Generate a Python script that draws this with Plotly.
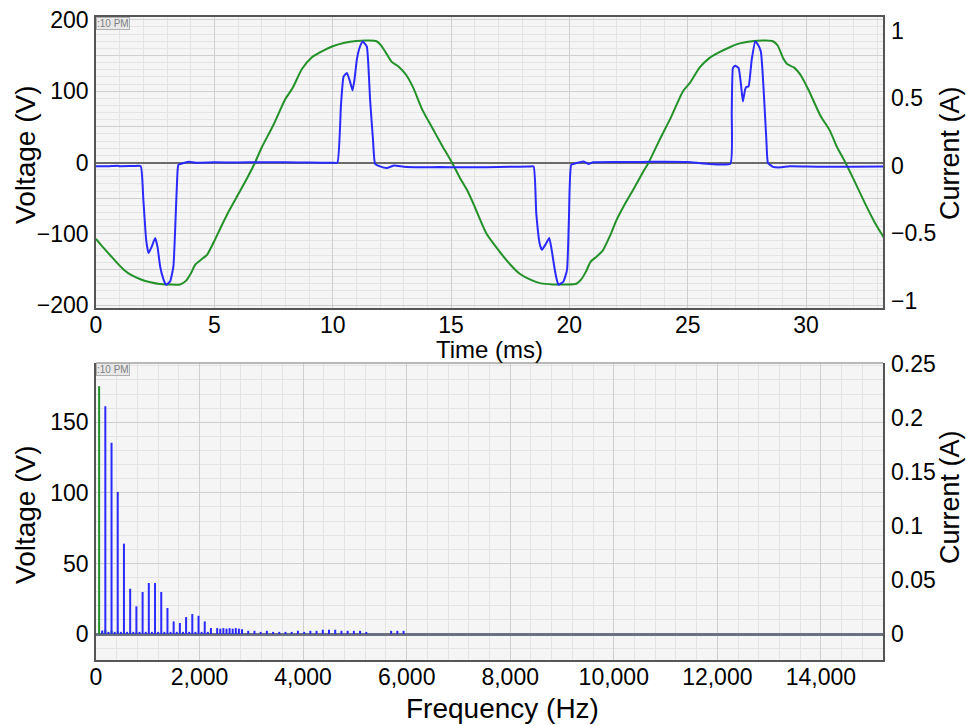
import plotly.graph_objects as go

# ---------------- data: time domain ----------------
t_volt = [0.0, 0.3, 0.6, 0.9, 1.2, 1.5, 1.9, 2.3, 2.7, 3.1, 3.55, 3.8, 4.0, 4.2, 4.45, 4.7,
          5.0, 5.3, 5.6, 6.0, 6.4, 6.72, 7.0, 7.5, 8.0, 8.3, 8.7, 9.1, 9.5, 10.0, 10.5, 11.0,
          11.5, 11.85, 12.05, 12.3, 12.5, 12.8, 13.1, 13.4, 13.8, 14.2, 14.6, 15.04, 15.4, 15.7,
          16.0, 16.5, 17.1, 17.5, 17.9, 18.4, 18.8, 19.3, 19.8, 20.3, 20.5, 20.7, 20.9, 21.15,
          21.4, 21.7, 22.0, 22.3, 22.7, 23.1, 23.35, 23.8, 24.3, 24.8, 25.1, 25.5, 25.9, 26.3,
          26.8, 27.2, 27.8, 28.3, 28.6, 28.8, 29.05, 29.2, 29.5, 29.8, 30.1, 30.6, 31.0, 31.3,
          31.66, 32.0, 32.5, 32.9, 33.3]
voltage = [-107, -119, -130, -141, -151, -158, -164, -168, -170.5, -171, -171, -166, -156, -143, -136, -129,
           -110, -89, -69, -45, -21, 0, 21, 53, 89, 104, 131, 147, 155, 163, 168, 170.5,
           171, 170, 164, 151, 141, 134, 123, 105, 73, 49, 25, 0, -23, -40,
           -62, -100, -127, -143, -156, -165, -169.5, -171, -171, -170, -164, -153, -139, -132,
           -124, -104, -80, -61, -38, -14, 0, 31, 64, 100, 112, 133, 146, 154,
           162, 167, 170.5, 171, 170, 164, 145, 138, 133, 121, 102, 66, 45, 22,
           0, -23, -58, -84, -106]

t_curr = [0.0, 0.5, 0.9, 1.0, 1.6, 1.89, 2.0, 2.12, 2.22, 2.35, 2.5, 2.6, 2.71, 2.85, 2.96, 3.13,
          3.27, 3.36, 3.44, 3.48, 3.7, 3.94, 4.2, 5.0, 6.0, 7.0, 8.0, 9.0, 10.0, 10.2, 10.35,
          10.46, 10.6, 10.72, 10.84, 10.93, 11.02, 11.15, 11.27, 11.44, 11.52, 11.58, 11.7, 11.79,
          12.0, 12.29, 12.6, 13.0, 13.7, 14.5, 15.5, 16.5, 17.5, 18.3, 18.49, 18.6, 18.75, 18.84,
          19.0, 19.15, 19.25, 19.36, 19.45, 19.54, 19.75, 19.9, 19.98, 20.08, 20.3, 20.6, 20.8,
          21.0, 22.0, 23.0, 24.0, 25.0, 25.8, 26.8, 26.86, 26.91, 27.0, 27.15, 27.25, 27.33, 27.42,
          27.47, 27.57, 27.7, 27.85, 27.95, 28.09, 28.16, 28.23, 28.32, 28.39, 28.6, 28.91, 29.3,
          30.0, 31.0, 32.0, 33.3]
current = [-0.003, -0.004, 0.0, -0.003, -0.002, -0.003, -0.25, -0.55, -0.646, -0.60, -0.535, -0.60,
           -0.745, -0.84, -0.88, -0.856, -0.745, -0.40, -0.054, 0.007, 0.02, 0.03, 0.022, 0.025,
           0.024, 0.026, 0.025, 0.024, 0.022, 0.022, 0.45, 0.66, 0.686, 0.63, 0.557, 0.65, 0.784,
           0.88, 0.919, 0.882, 0.70, 0.488, 0.20, 0.015, -0.005, -0.017, 0.002, -0.008, -0.012,
           -0.010, -0.012, -0.011, -0.008, -0.006, -0.005, -0.35, -0.58, -0.621, -0.58, -0.535,
           -0.62, -0.745, -0.83, -0.88, -0.856, -0.77, -0.40, 0.007, 0.02, 0.032, 0.013, 0.025,
           0.027, 0.028, 0.03, 0.028, 0.015, 0.015, 0.40, 0.723, 0.74, 0.723, 0.60, 0.476, 0.56,
           0.582, 0.587, 0.78, 0.919, 0.90, 0.845, 0.70, 0.488, 0.20, 0.02, -0.008, -0.012, -0.004,
           -0.006, -0.008, -0.007, -0.006]

# ---------------- data: frequency domain ----------------
freq_volt = [60, 120, 180, 300, 420, 540, 660, 780]
volt_mag = [175.6, 1.5, 3.0, 2.5, 2.0, 1.5, 1.0, 1.0]

freq_curr = [120, 180, 240, 300, 360, 420, 480, 540, 600, 660, 720, 780, 840, 900, 960,
             1020, 1080, 1140, 1200, 1260, 1320, 1380, 1440, 1500, 1560, 1620, 1680, 1740, 1800,
             1860, 1920, 1980, 2040, 2100, 2160, 2220, 2340, 2400, 2460, 2520, 2580, 2640, 2700,
             2760, 2820, 2940, 3060, 3180, 3300, 3420, 3540, 3660, 3780, 3900, 4020, 4140, 4260,
             4380, 4500, 4620, 4740, 4860, 4980, 5100, 5220, 5700, 5820, 5940]
curr_mag = [0.0033, 0.2107, 0.002, 0.1769, 0.002, 0.1315, 0.002, 0.0836, 0.002, 0.0419, 0.002,
            0.0256, 0.002, 0.0389, 0.002, 0.0472, 0.002, 0.0472, 0.002, 0.0389, 0.002, 0.0241, 0.002,
            0.0117, 0.002, 0.0102, 0.002, 0.0157, 0.002, 0.0185, 0.002, 0.0169, 0.002, 0.0117, 0.002,
            0.0056, 0.0055, 0.005, 0.0055, 0.005, 0.0055, 0.005, 0.0055, 0.005, 0.0045, 0.003, 0.003,
            0.002, 0.003, 0.002, 0.002, 0.002, 0.002, 0.003, 0.002, 0.003, 0.003, 0.004, 0.004,
            0.004, 0.003, 0.003, 0.003, 0.003, 0.002, 0.003, 0.003, 0.003]

# ---------------- style ----------------
GREEN = "#24912a"
BLUE = "#2a2aff"
FONT = "Liberation Sans"
FS = 23
BG = "#f5f5f5"
GRID = "#cfcfd2"
MINOR = "#e4e4e6"
FRAME = "#555555"

W, H = 967, 725
px0, px1 = 96 / W, 883 / W
top_dom = [1 - 308 / H, 1 - 17 / H]
bot_dom = [1 - 660 / H, 1 - 363 / H]


def stems(xs, ys):
    sx, sy = [], []
    for f, a in zip(xs, ys):
        sx += [f, f, None]
        sy += [0, a, None]
    return sx, sy


fig = go.Figure()

fig.add_trace(go.Scatter(x=t_volt, y=voltage, mode="lines",
                         line=dict(color=GREEN, width=2, shape="spline", smoothing=0.6),
                         xaxis="x", yaxis="y", showlegend=False))
fig.add_trace(go.Scatter(x=t_curr, y=current, mode="lines",
                         line=dict(color=BLUE, width=2, shape="spline", smoothing=0.4),
                         xaxis="x", yaxis="y2", showlegend=False))

cx, cy = stems(freq_curr, curr_mag)
fig.add_trace(go.Scatter(x=cx, y=cy, mode="lines", line=dict(color=BLUE, width=2),
                         xaxis="x2", yaxis="y4", showlegend=False, connectgaps=False))
vx, vy = stems(freq_volt, volt_mag)
fig.add_trace(go.Scatter(x=vx, y=vy, mode="lines", line=dict(color=GREEN, width=2),
                         xaxis="x2", yaxis="y3", showlegend=False, connectgaps=False))

tf = dict(family=FONT, size=FS, color="#000")

common_x = dict(showgrid=True, gridcolor=GRID, gridwidth=1, showline=True, linecolor=FRAME,
                linewidth=1.5, ticks="", tickfont=tf, zeroline=False,
                automargin=False, ticklabelstandoff=-4)

v_ticks = [-200, -150, -100, -50, 0, 50, 100, 150, 200]
v_text = ["\u2212200", "", "\u2212100", "", "0", "", "100", "", "200"]

fig.update_layout(
    width=W, height=H, autosize=False,
    margin=dict(l=0, r=0, t=0, b=0),
    paper_bgcolor="white", plot_bgcolor=BG,
    font=dict(family=FONT, size=FS, color="#000"),
    xaxis=dict(domain=[px0, px1], anchor="y", range=[0, 33.25], dtick=5, mirror=True,
               minor=dict(dtick=1, showgrid=True, gridcolor=MINOR), **common_x),
    yaxis=dict(domain=top_dom, anchor="x", range=[-204, 204], tickvals=v_ticks, ticktext=v_text,
               showgrid=True, gridcolor=GRID, minor=dict(dtick=10, showgrid=True, gridcolor=MINOR),
               zeroline=True, zerolinecolor="#6b6b6b", zerolinewidth=2,
               showline=True, linecolor=FRAME, linewidth=1.5, mirror=True, ticks="", tickfont=tf,
               automargin=False, ticklabelstandoff=1),
    yaxis2=dict(overlaying="y", side="right", anchor="x", range=[-1.052, 1.10], dtick=0.5,
                showgrid=False, zeroline=False, ticks="", tickfont=tf,
                automargin=False, ticklabelstandoff=7),
    xaxis2=dict(domain=[px0, px1], anchor="y3", range=[0, 15200], dtick=2000, tickformat=",",
                mirror=False,
                minor=dict(dtick=400, showgrid=True, gridcolor=MINOR), **common_x),
    yaxis3=dict(domain=bot_dom, anchor="x2", range=[-18.4, 192], dtick=50,
                showgrid=True, gridcolor=GRID, minor=dict(dtick=10, showgrid=True, gridcolor=MINOR),
                zeroline=True, zerolinecolor="#6b7180", zerolinewidth=2.5,
                showline=True, linecolor=FRAME, linewidth=1.5, mirror=True, ticks="", tickfont=tf,
                automargin=False, ticklabelstandoff=1),
    yaxis4=dict(overlaying="y3", side="right", anchor="x2", range=[-0.024, 0.2507], dtick=0.05,
                showgrid=False, zeroline=False, ticks="", tickfont=tf,
                automargin=False, ticklabelstandoff=7),
)

# light top border of the spectrum panel
fig.add_shape(type="line", xref="paper", yref="paper", x0=px0, x1=px1,
              y0=bot_dom[1], y1=bot_dom[1], line=dict(color="#b8b8b8", width=2))

# axis titles: (text, x px, y px, angle, size)
titles = [
    ("Voltage (V)", 25, 155, -90, 28),
    ("Current (A)", 950, 153, -90, 27),
    ("Time (ms)", 489, 349, 0, 24),
    ("Voltage (V)", 25, 515, -90, 28),
    ("Current (A)", 950, 497, -90, 27),
    ("Frequency (Hz)", 502, 708, 0, 28),
]
for txt, x, y, ang, size in titles:
    fig.add_annotation(text=txt, xref="paper", yref="paper", x=x / W, y=1 - y / H,
                       xanchor="center", yanchor="middle", textangle=ang, showarrow=False,
                       font=dict(family=FONT, size=size, color="#000"))

stamp = dict(text=":10 PM", xref="paper", yref="paper", x=px0, xanchor="left", yanchor="top",
             showarrow=False, font=dict(family=FONT, size=10, color="#808080"),
             bgcolor="#e8e8e8", bordercolor="#b0b0b0", borderwidth=1, borderpad=0)
fig.add_annotation(y=top_dom[1], **stamp)
fig.add_annotation(y=bot_dom[1], **stamp)

fig.write_html("out.html", config={"displayModeBar": False},
               post_script="document.body.style.margin='0px';document.body.style.overflow='hidden';")
